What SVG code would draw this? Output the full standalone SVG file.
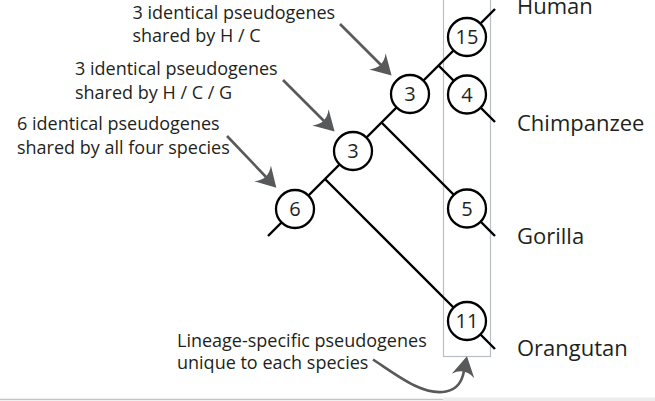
<svg xmlns="http://www.w3.org/2000/svg" width="655" height="401" viewBox="0 0 655 401">
<style>
text{font-family:"Open Sans","Liberation Sans",sans-serif;fill:#231f20}
.lbl{font-size:18px}
.sp{font-size:22px}
.num{font-size:20px;text-anchor:middle}
.br{stroke:#000;stroke-width:2.4;fill:none;stroke-linecap:butt}
.nd{fill:#fff;stroke:#000;stroke-width:2.3}
.ar{stroke:#58595b;stroke-width:2.6;fill:none}
</style>
<defs>
<marker id="ah" markerUnits="userSpaceOnUse" orient="auto" refX="0" refY="0" markerWidth="30" markerHeight="30" overflow="visible">
<path d="M15,0 L-5,-11.5 Q4,0 -5,11.5 Z" fill="#58595b"/>
</marker>
</defs>
<rect width="655" height="401" fill="#fff"/>
<rect id="box" x="443.5" y="-2" width="47" height="358.5" fill="none" stroke="#b9bec6" stroke-width="1.2"/>
<line x1="0" y1="399.5" x2="443" y2="399.5" stroke="#c4c4c4" stroke-width="1.5"/>
<rect x="443" y="397.5" width="212" height="3.5" fill="#ececec"/>
<g id="connectors">
<line class="br" x1="268" y1="236" x2="495" y2="9"/>
<line class="br" x1="325" y1="179" x2="495" y2="349"/>
<line class="br" x1="381.5" y1="122.5" x2="495" y2="236"/>
<line class="br" x1="438.5" y1="65.5" x2="495" y2="122"/>
<line class="ar" x1="340" y1="24" x2="381" y2="65" marker-end="url(#ah)"/>
<line class="ar" x1="283" y1="80" x2="324" y2="121" marker-end="url(#ah)"/>
<line class="ar" x1="227" y1="136" x2="266" y2="177" marker-end="url(#ah)"/>
<path class="ar" d="M373,359.5 C398,376 423,396 446,391.5 C458,389 462,381 464,371" marker-end="url(#ah)"/>
</g>
<g id="n6"><circle class="nd" cx="295" cy="209" r="19"/><text class="num" x="295" y="216">6</text></g>
<g id="n3a"><circle class="nd" cx="353" cy="151" r="19"/><text class="num" x="353" y="158">3</text></g>
<g id="n3b"><circle class="nd" cx="410" cy="94" r="19"/><text class="num" x="410" y="101">3</text></g>
<g id="n15"><circle class="nd" cx="467" cy="37" r="19"/><text class="num" x="467" y="44">15</text></g>
<g id="n4"><circle class="nd" cx="467" cy="94.5" r="19"/><text class="num" x="467" y="101.5">4</text></g>
<g id="n5"><circle class="nd" cx="467" cy="208.5" r="19"/><text class="num" x="467" y="215.5">5</text></g>
<g id="n11"><circle class="nd" cx="467" cy="321" r="19"/><text class="num" x="467" y="328">11</text></g>
<g id="species">
<text class="sp" x="517" y="14">Human</text>
<text class="sp" x="517" y="131">Chimpanzee</text>
<text class="sp" x="517" y="243.5">Gorilla</text>
<text class="sp" x="517" y="355.5">Orangutan</text>
</g>
<g id="notes">
<text class="lbl" x="132.5" y="18.5">3 identical pseudogenes</text>
<text class="lbl" x="132.5" y="41.5">shared by H / C</text>
<text class="lbl" x="75" y="75">3 identical pseudogenes</text>
<text class="lbl" x="75" y="98.5">shared by H / C / G</text>
<text class="lbl" x="17" y="130">6 identical pseudogenes</text>
<text class="lbl" x="17" y="153.5">shared by all four species</text>
<text class="lbl" x="177" y="346.5">Lineage-specific pseudogenes</text>
<text class="lbl" x="177" y="369">unique to each species</text>
</g>
</svg>
